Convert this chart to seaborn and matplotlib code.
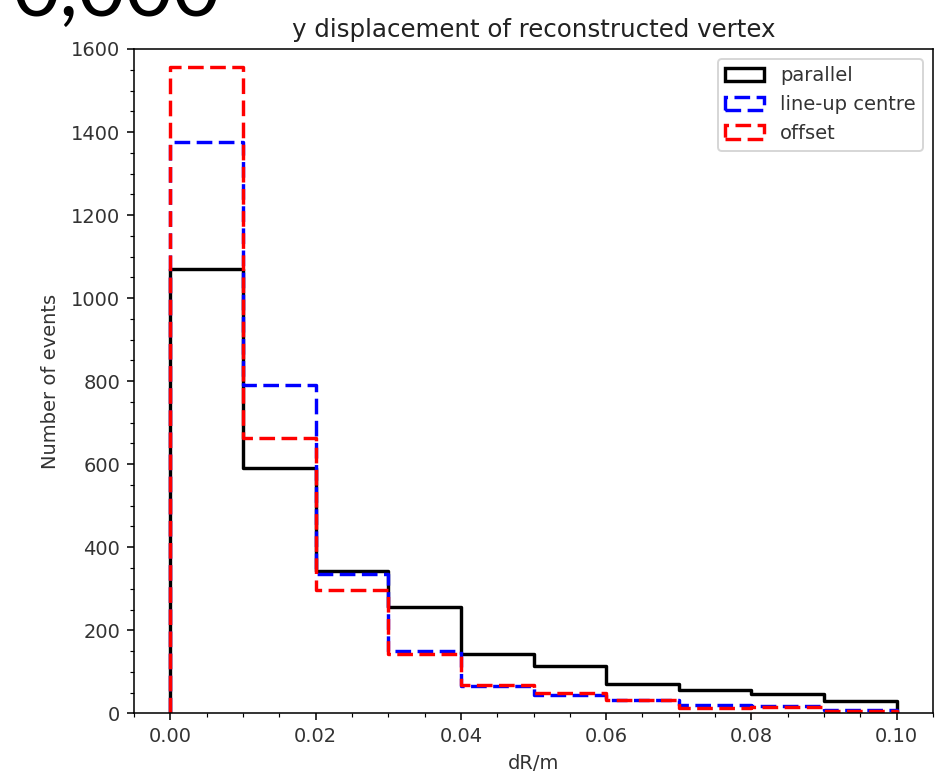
import numpy as np
import pandas as pd
import matplotlib
matplotlib.use("Agg")
import matplotlib.pyplot as plt
import matplotlib.patches as mpatches
from matplotlib.ticker import AutoMinorLocator
import seaborn as sns

# ---- data ----
bin_edges = [0.00, 0.01, 0.02, 0.03, 0.04, 0.05, 0.06, 0.07, 0.08, 0.09, 0.10]
parallel = [1070, 590, 342, 256, 143, 113, 71, 55, 46, 30]
lineup_centre = [1375, 791, 336, 151, 65, 45, 31, 20, 18, 8]
offset = [1557, 663, 296, 143, 69, 48, 31, 12, 14, 6]
series_labels = ["parallel", "line-up centre", "offset"]
series_colors = ["black", "blue", "red"]

title_text = "y displacement of reconstructed vertex"
x_label = "dR/m"
y_label = "Number of events"
x_ticks = [0.00, 0.02, 0.04, 0.06, 0.08, 0.10]
y_ticks = [0, 200, 400, 600, 800, 1000, 1200, 1400, 1600]
corner_text = "0,000"

# ---- figure ----
DPI = 140
fig = plt.figure(figsize=(938 / DPI, 775 / DPI), dpi=DPI)
ax = fig.add_axes([0.1429, 0.0796, 0.8518, 0.8572])

edges = np.array(bin_edges)
centers = (edges[:-1] + edges[1:]) / 2
# tiny empty bins at both ends so the step outline drops to zero like a step histogram
pad = 1e-7
plot_bins = [float(edges[0] - pad)] + [float(e) for e in edges] + [float(edges[-1] + pad)]

series = [parallel, lineup_centre, offset]
styles = ["-", (0, (4.6, 1.9)), (0, (4.6, 1.9))]
lw = 1.75
handles = []
for counts, label, color, ls in zip(series, series_labels, series_colors, styles):
    df = pd.DataFrame({"dR": centers, "n": counts})
    sns.histplot(data=df, x="dR", weights="n", bins=plot_bins, element="step",
                 fill=False, color=color, linestyle=ls, linewidth=lw, ax=ax)
    handles.append(mpatches.Patch(fill=False, edgecolor=color, linestyle=ls,
                                  linewidth=lw, label=label))

ax.set_xlim(-0.005, 0.105)
ax.set_ylim(0, 1600)
ax.set_xticks(x_ticks)
ax.set_xticklabels([f"{v:.2f}" for v in x_ticks])
ax.set_yticks(y_ticks)
ax.xaxis.set_minor_locator(AutoMinorLocator())
ax.yaxis.set_minor_locator(AutoMinorLocator())
ax.tick_params(labelcolor="#333333")
ax.set_xlabel(x_label, color="#333333")
ax.set_ylabel(y_label, color="#333333", labelpad=6)
ax.set_title(title_text, fontsize=12.6, color="#222222")
leg = ax.legend(handles=handles, loc="upper right")
for t in leg.get_texts():
    t.set_color("#333333")

fig.text(0.013, 0.979, corner_text, fontsize=42, family="Lato", va="baseline")

fig.savefig("out.png", dpi=DPI)
